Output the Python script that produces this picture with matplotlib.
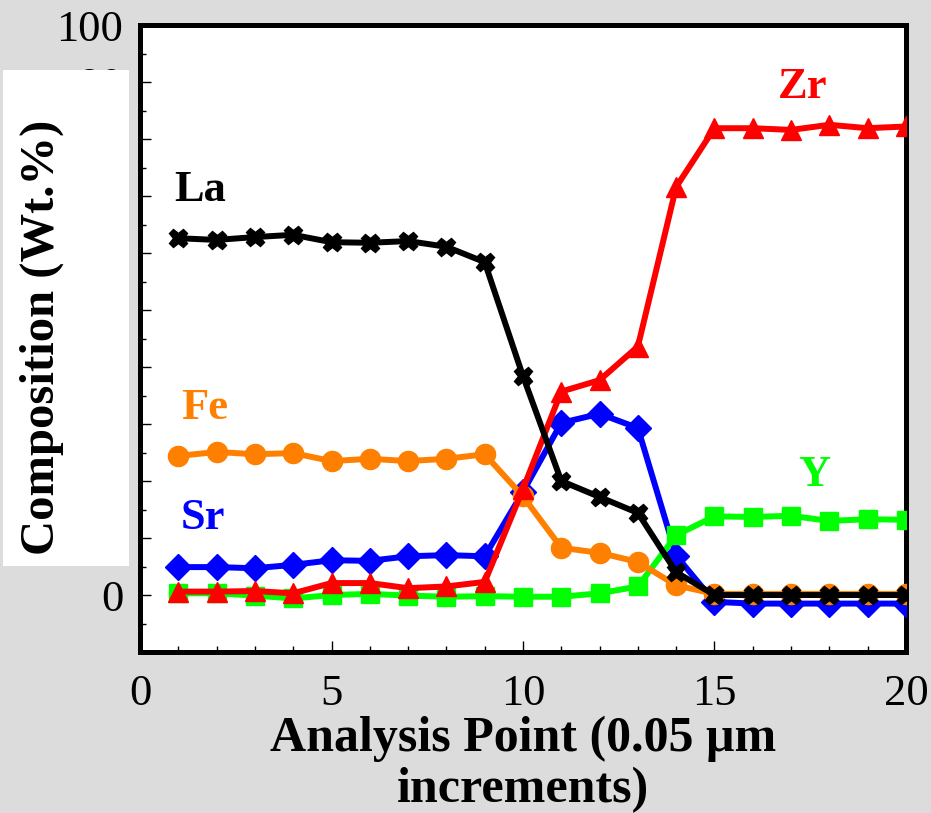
import matplotlib
matplotlib.use('Agg')
import matplotlib.pyplot as plt
from matplotlib.ticker import MultipleLocator, FixedLocator
from matplotlib.patches import Rectangle

# analysis points and compositions
points = list(range(1, 21))
la = [62.6, 62.3, 62.8, 63.2, 61.9, 61.8, 62.1, 61.1, 58.4, 38.4,
      20.0, 17.2, 14.4, 4.0, 0.0, 0.0, 0.0, 0.0, 0.0, 0.0]
fe = [24.4, 25.1, 24.7, 24.9, 23.5, 23.9, 23.5, 23.9, 24.7, 17.3,
      8.3, 7.4, 5.8, 1.7, 0.2, 0.2, 0.2, 0.2, 0.2, 0.2]
sr = [4.9, 4.9, 4.7, 5.3, 6.1, 6.0, 6.8, 7.0, 6.8, 18.1,
      30.2, 31.8, 29.3, 6.9, -1.2, -1.5, -1.5, -1.5, -1.5, -1.5]
zr = [0.6, 0.6, 0.7, 0.3, 2.1, 2.1, 1.2, 1.5, 2.3, 18.6,
      35.7, 37.7, 43.6, 71.6, 81.9, 81.9, 81.6, 82.5, 81.9, 82.2]
y_el = [0.3, 0.3, -0.1, -0.6, 0.0, 0.2, -0.1, -0.3, -0.2, -0.3,
        -0.3, 0.3, 1.5, 10.5, 13.8, 13.7, 13.9, 13.0, 13.3, 13.2]
ytick_vals = [0, 10, 20, 30, 40, 50, 60, 70, 80, 90, 100]

bg = '#dcdcdc'
orange = '#ff8000'
serif = ['Liberation Serif', 'DejaVu Serif']

fig = plt.figure(figsize=(9.31, 8.13), dpi=100, facecolor=bg)
ax = fig.add_axes([0.1504, 0.198, 0.8227, 0.7712])

lw = 4.3
ax.plot(points, sr, color='blue', lw=lw, marker='D', ms=13.5, mec='blue', zorder=3)
ax.plot(points, y_el, color='#00ff00', lw=lw, marker='s', ms=13, mec='#00ff00', zorder=4)
ax.plot(points, fe, color=orange, lw=lw, marker='o', ms=14.5, mec=orange, zorder=5)
ax.plot(points, zr, color='red', lw=lw, marker='^', ms=14, mec='red', zorder=6)
ax.plot(points, la, color='black', lw=lw, marker='X', ms=13, mec='black', zorder=7)

ax.set_xlim(0, 20)
ax.set_ylim(-10, 100)
ax.xaxis.set_major_locator(MultipleLocator(5))
ax.xaxis.set_minor_locator(MultipleLocator(1))
ax.yaxis.set_major_locator(FixedLocator(ytick_vals))
ax.yaxis.set_minor_locator(FixedLocator([-10, -5, 5, 15, 25, 35, 45, 55, 65, 75, 85, 95]))
ax.tick_params(which='both', direction='in', top=False, right=False, width=1)
ax.tick_params(which='major', length=8)
ax.tick_params(which='minor', length=4)
ax.tick_params(axis='y', which='major', pad=12, labelsize=32)
ax.tick_params(axis='x', which='major', pad=16, labelsize=32)
for lab in ax.get_xticklabels() + ax.get_yticklabels():
    lab.set_family(serif)
for sp in ax.spines.values():
    sp.set_linewidth(3.6)

ax.set_xlabel('Analysis Point (0.05 \u03bcm\nincrements)', fontsize=36,
              fontweight='bold', family=serif, linespacing=1.15, labelpad=1)

# labels for each element
ax.text(1.57, 71, 'La', color='black', fontsize=32, fontweight='bold', family=serif, ha='center', va='center')
ax.text(1.68, 32.8, 'Fe', color=orange, fontsize=32, fontweight='bold', family=serif, ha='center', va='center')
ax.text(1.63, 13.5, 'Sr', color='blue', fontsize=32, fontweight='bold', family=serif, ha='center', va='center')
ax.text(17.3, 89.1, 'Zr', color='red', fontsize=32, fontweight='bold', family=serif, ha='center', va='center')
ax.text(17.6, 21, 'Y', color='#00ff00', fontsize=32, fontweight='bold', family=serif, ha='center', va='center')

# white box over the y tick labels, with the axis title on it
fig.patches.append(Rectangle((0.0032, 0.3038), 0.1353, 0.610, transform=fig.transFigure,
                             facecolor='white', edgecolor='none', zorder=5))
fig.text(0.045, 0.585, 'Composition (Wt.%)', rotation=90, fontsize=35, fontweight='bold',
         family=serif, ha='center', va='center', zorder=6)

plt.savefig('out.png', dpi=100, facecolor=bg)
